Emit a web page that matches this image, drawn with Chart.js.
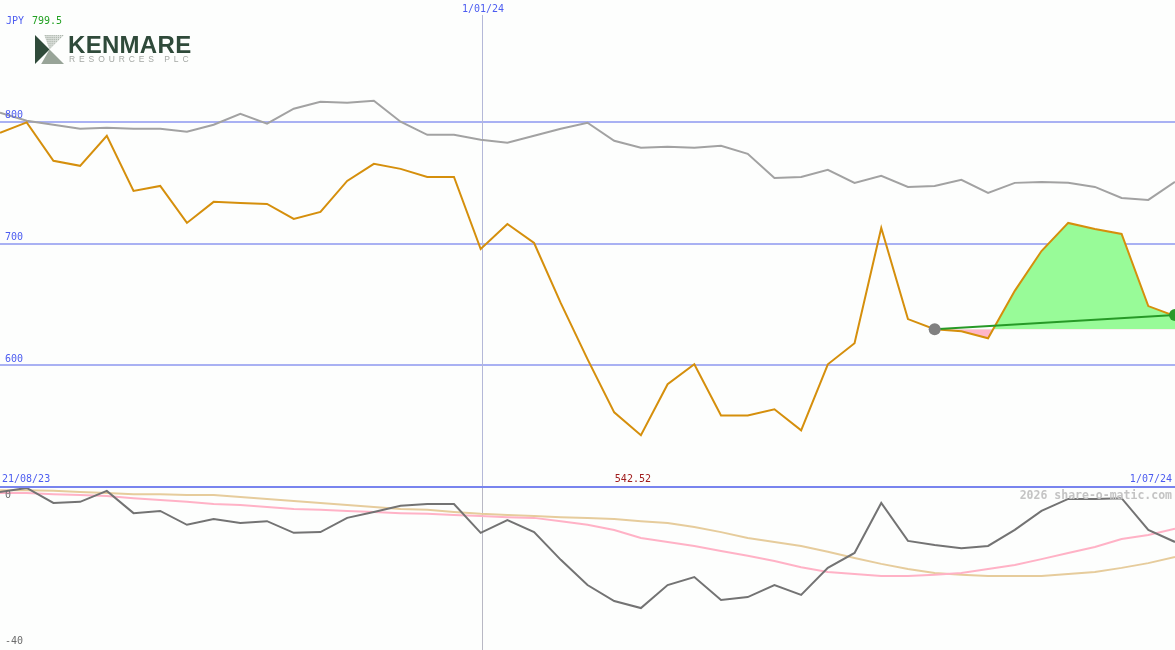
<!DOCTYPE html>
<html>
<head>
<meta charset="utf-8">
<title>Kenmare Resources</title>
<script src="https://cdn.jsdelivr.net/npm/chart.js@4.4.1/dist/chart.umd.min.js"></script>
<style>
  body { margin: 0; background: #fdfefd; }
  #wrap { position: relative; width: 1175px; height: 650px; overflow: hidden; background: #fdfefd; }
  canvas { position: absolute; left: 0; }
  #topChart { top: 0; }
  #bottomChart { top: 487px; }
  #sep { position: absolute; left: 0; top: 486px; width: 1175px; height: 2px; background: #7884ee; }
  .logo { position: absolute; left: 35px; top: 35px; }
  .logo-name { position: absolute; left: 68px; top: 31px; font: bold 24px "Liberation Sans", Arial, sans-serif; color: #2f4a3a; letter-spacing: 0.3px; }
  .logo-sub { position: absolute; left: 69px; top: 54px; font: 8.5px "Liberation Sans", Arial, sans-serif; color: #a4a8a4; letter-spacing: 3.9px; }
</style>
</head>
<body>
<div id="wrap">
  <canvas id="topChart" width="1175" height="487"></canvas>
  <canvas id="bottomChart" width="1175" height="163"></canvas>
  <div id="sep"></div>
  <svg class="logo" width="29" height="29" viewBox="0 0 28 28">
    <defs>
      <pattern id="hatch" width="2" height="2" patternUnits="userSpaceOnUse">
        <rect width="2" height="2" fill="#dfe3df"/>
        <rect width="1" height="1" fill="#9aa59a"/>
      </pattern>
    </defs>
    <polygon points="0,0 14,14 0,28" fill="#2f4a3a"/>
    <polygon points="9,0 28,0 14,14" fill="url(#hatch)"/>
    <polygon points="14,14 28,28 6,28" fill="#98a498"/>
  </svg>
  <div class="logo-name">KENMARE</div>
  <div class="logo-sub">RESOURCES PLC</div>
</div>
<script>
// weekly closes, 21/08/23 .. 1/07/24 (JPY)
const price = [790.9, 799.5, 767.9, 763.8, 788.5, 743.2, 747.3, 716.9, 734.2, 733.3,
  732.5, 720.2, 725.9, 751.4, 765.4, 761.3, 754.7, 754.7, 695.5, 716.0,
  700.4, 651.0, 605.0, 561.3, 542.5, 584.4, 600.8, 558.8, 558.8, 563.8,
  546.5, 600.8, 618.1, 712.8, 637.9, 629.6, 628.0, 622.2, 661.1, 693.8,
  716.9, 711.9, 707.8, 648.6, 640.4];

// comparison index, rebased to price units
const index = [807.4, 800.8, 797.5, 794.2, 795.1, 794.2, 794.2, 791.8, 797.5, 806.6,
  798.4, 810.7, 816.5, 815.6, 817.3, 800.0, 789.3, 789.3, 785.2, 782.7,
  788.5, 794.2, 799.2, 784.4, 778.6, 779.4, 778.6, 780.2, 773.7, 753.9,
  754.7, 760.5, 749.8, 755.6, 746.5, 747.3, 752.3, 741.6, 749.8, 750.6,
  749.8, 746.5, 737.4, 735.8, 750.6];

// lower panel
const relStrength = [2.2, 3.3, -0.8, -0.5, 2.5, -3.6, -3.0, -6.8, -5.2, -6.3,
  -5.8, -9.0, -8.8, -4.9, -3.3, -1.6, -1.1, -1.1, -9.0, -5.5,
  -8.8, -16.4, -23.3, -27.7, -29.6, -23.3, -21.1, -27.4, -26.6, -23.3,
  -26.0, -18.6, -14.5, -0.8, -11.2, -12.3, -13.2, -12.6, -8.2, -3.0,
  0.3, 0.3, 0.5, -8.2, -11.5];
const pinkAvg = [1.9, 1.9, 1.6, 1.4, 1.1, 0.5, 0, -0.5, -1.1, -1.4,
  -1.9, -2.5, -2.7, -3.0, -3.3, -3.6, -3.8, -4.1, -4.4, -4.7,
  -4.9, -5.8, -6.8, -8.2, -10.4, -11.5, -12.6, -14.0, -15.3, -16.7,
  -18.4, -19.7, -20.3, -20.8, -20.8, -20.5, -20.0, -18.9, -17.8, -16.2,
  -14.5, -12.9, -10.7, -9.6, -7.9];
const tanAvg = [2.7, 2.7, 2.5, 2.2, 1.9, 1.6, 1.6, 1.4, 1.4, 0.8,
  0.3, -0.3, -0.8, -1.4, -1.9, -2.5, -2.7, -3.3, -3.8, -4.1,
  -4.4, -4.7, -4.9, -5.2, -5.8, -6.3, -7.4, -8.8, -10.4, -11.5,
  -12.6, -14.2, -15.9, -17.5, -18.9, -20.0, -20.5, -20.8, -20.8, -20.8,
  -20.3, -19.7, -18.6, -17.3, -15.6];

// trend from the grey dot to the last close
const trendIdx = [35, 44];
const trendVal = [629.6, 641.2];

const topTicks = [600, 700, 800];
const bottomTicks = [0, -40];
const startLabel = '21/08/23';
const endLabel = '1/07/24';
const newYearLabel = '1/01/24';
const newYearWeek = 18.05;

const pts = arr => arr.map((v, i) => ({ x: i, y: v }));

const monoFont = '10px "DejaVu Sans Mono", monospace';
const blue = '#4c5cf0';

function vline(chart, color) {
  const ctx = chart.ctx;
  const px = Math.round(chart.scales.x.getPixelForValue(newYearWeek)) + 0.5;
  ctx.save();
  ctx.strokeStyle = color;
  ctx.lineWidth = 1;
  ctx.beginPath();
  ctx.moveTo(px, chart.canvas.id === 'topChart' ? 15 : 0);
  ctx.lineTo(px, chart.height);
  ctx.stroke();
  ctx.restore();
}

const topDecor = {
  id: 'topDecor',
  beforeDatasetsDraw(chart) {
    const { ctx, scales: { y } } = chart;
    ctx.save();
    ctx.strokeStyle = '#a9b1f3';
    ctx.lineWidth = 2;
    topTicks.forEach(v => {
      const py = Math.round(y.getPixelForValue(v));
      ctx.beginPath();
      ctx.moveTo(0, py);
      ctx.lineTo(chart.width, py);
      ctx.stroke();
    });
    ctx.restore();
    vline(chart, '#b4b8d8');
  },
  afterDatasetsDraw(chart) {
    const { ctx, scales: { x, y } } = chart;
    ctx.save();
    ctx.font = monoFont;
    ctx.textBaseline = 'middle';
    ctx.fillStyle = blue;
    ctx.textAlign = 'left';
    topTicks.forEach(v => ctx.fillText(String(v), 5, y.getPixelForValue(v) - 6));

    // header
    ctx.fillText('JPY', 6, 21);
    ctx.fillStyle = '#22a022';
    ctx.fillText(Math.max(...price).toFixed(1), 32, 21);

    ctx.fillStyle = blue;
    ctx.textAlign = 'center';
    ctx.fillText(newYearLabel, x.getPixelForValue(newYearWeek) + 1, 9);

    // date range and low
    ctx.textAlign = 'left';
    ctx.fillText(startLabel, 2, 479);
    ctx.textAlign = 'right';
    ctx.fillText(endLabel, 1172, 479);
    const low = Math.min(...price);
    const lowIdx = price.indexOf(low);
    ctx.textAlign = 'center';
    ctx.fillStyle = '#a01c1c';
    ctx.fillText('542.52', x.getPixelForValue(lowIdx) - 8, 479);
    ctx.restore();
  }
};

const bottomDecor = {
  id: 'bottomDecor',
  beforeDatasetsDraw(chart) {
    vline(chart, '#b8b8c4');
  },
  afterDatasetsDraw(chart) {
    const { ctx, scales: { y } } = chart;
    ctx.save();
    ctx.font = monoFont;
    ctx.textBaseline = 'middle';
    ctx.fillStyle = '#6c6c6c';
    bottomTicks.forEach(v => ctx.fillText(String(v), 5, y.getPixelForValue(v) - 5));
    ctx.font = 'bold 11.5px "DejaVu Sans Mono", monospace';
    ctx.fillStyle = '#c4c4c4';
    ctx.textAlign = 'right';
    ctx.fillText('2026 share-o-matic.com', 1172, 9);
    ctx.restore();
  }
};

const baseOptions = (ymin, ymax) => ({
  responsive: false,
  animation: false,
  devicePixelRatio: 1,
  layout: { padding: 0, autoPadding: false },
  plugins: { legend: { display: false }, tooltip: { enabled: false } },
  elements: { point: { radius: 0 }, line: { tension: 0 } },
  scales: {
    x: { type: 'linear', min: 0, max: price.length - 1, display: false },
    y: { min: ymin, max: ymax, display: false }
  }
});

const trendData = price.map(() => null);
trendIdx.forEach((i, k) => { trendData[i] = trendVal[k]; });
const fillData = price.map((v, i) => (i >= trendIdx[0] ? v : null));

new Chart(document.getElementById('topChart'), {
  type: 'line',
  data: {
    datasets: [
      {
        data: pts(trendData),
        borderColor: '#279a27',
        borderWidth: 2,
        spanGaps: true,
        pointRadius: trendData.map(v => (v === null ? 0 : 6)),
        pointBackgroundColor: trendData.map((v, i) => (i === trendIdx[0] ? '#808080' : '#2a9a2a')),
        pointBorderWidth: 0,
        clip: false
      },
      {
        data: pts(price),
        borderColor: '#d58f0c',
        borderWidth: 2
      },
      {
        data: pts(index),
        borderColor: '#a2a2a2',
        borderWidth: 2
      },
      {
        data: pts(fillData),
        borderWidth: 0,
        borderColor: 'rgba(0,0,0,0)',
        fill: { target: { value: trendVal[0] }, above: '#98fb98', below: '#ffb6c8' }
      }
    ]
  },
  options: baseOptions(500, 900),
  plugins: [topDecor]
});

new Chart(document.getElementById('bottomChart'), {
  type: 'line',
  data: {
    datasets: [
      { data: pts(relStrength), borderColor: '#737373', borderWidth: 2 },
      { data: pts(pinkAvg), borderColor: '#ffb2c6', borderWidth: 2 },
      { data: pts(tanAvg), borderColor: '#e6cc9c', borderWidth: 2 }
    ]
  },
  options: baseOptions(-41.1, 3.56),
  plugins: [bottomDecor]
});
</script>
</body>
</html>
